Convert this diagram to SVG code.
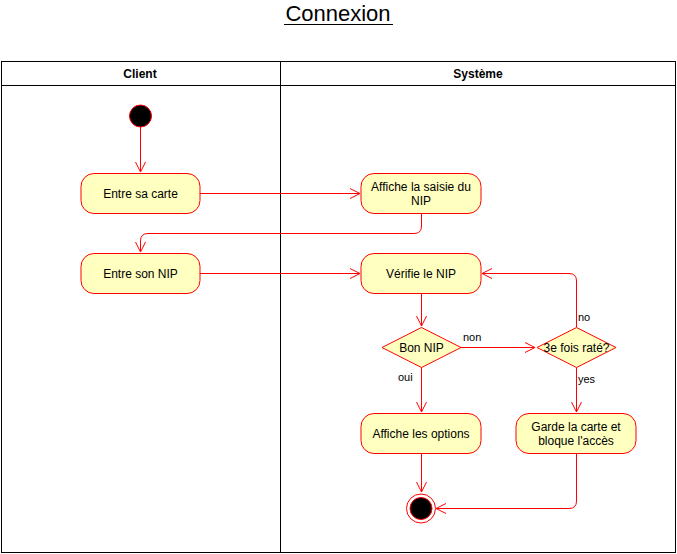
<svg xmlns="http://www.w3.org/2000/svg" width="677" height="554" viewBox="0 0 677 554">
<defs>
<style>
text{font-family:"Liberation Sans",Arial,sans-serif;font-size:12px;fill:#000;text-anchor:middle}
.act{fill:#FFFFC0;stroke:#FF0000;stroke-width:1}
.edge{fill:none;stroke:#FF0000;stroke-width:1}
.lane{fill:none;stroke:#000;stroke-width:1}
.hdr{font-weight:bold}
.lbl{font-size:11px;text-anchor:start}
</style>
<marker id="arr" viewBox="0 0 12 12" refX="11" refY="6" markerWidth="12" markerHeight="12" markerUnits="userSpaceOnUse" orient="auto">
<path d="M1,1 L11,6 L1,11" fill="none" stroke="#FF0000" stroke-width="1"/>
</marker>
</defs>
<rect width="677" height="554" fill="#fff"/>
<g id="title">
<text x="338" y="21" style="font-size:22px">Connexion</text>
<line x1="284" y1="24.5" x2="393" y2="24.5" stroke="#000" stroke-width="1.2"/>
</g>
<g id="pool">
<rect class="lane" x="1.5" y="61.5" width="674" height="491"/>
<line class="lane" x1="1.5" y1="85.5" x2="675.5" y2="85.5"/>
<line class="lane" x1="280.5" y1="61.5" x2="280.5" y2="552.5"/>
<text class="hdr" x="140" y="78">Client</text>
<text class="hdr" x="478" y="78">Système</text>
</g>
<g id="connectors">
<path class="edge" d="M140.5,127 V172" marker-end="url(#arr)"/>
<path class="edge" d="M200,193.5 H360" marker-end="url(#arr)"/>
<path class="edge" d="M421.5,213 V226 Q421.5,233.5 414,233.5 H148 Q140.5,233.5 140.5,241 V252" marker-end="url(#arr)"/>
<path class="edge" d="M200,273.5 H360" marker-end="url(#arr)"/>
<path class="edge" d="M421.5,293 V326" marker-end="url(#arr)"/>
<path class="edge" d="M461,347.5 H535" marker-end="url(#arr)"/>
<path class="edge" d="M576.5,327 V281 Q576.5,273.5 569,273.5 H482" marker-end="url(#arr)"/>
<path class="edge" d="M576.5,367 V412" marker-end="url(#arr)"/>
<path class="edge" d="M421.5,367 V412" marker-end="url(#arr)"/>
<path class="edge" d="M421.5,453 V492" marker-end="url(#arr)"/>
<path class="edge" d="M576.5,453 V501 Q576.5,508.5 569,508.5 H436" marker-end="url(#arr)"/>
<text class="lbl" x="463" y="341">non</text>
<text class="lbl" x="578" y="321">no</text>
<text class="lbl" x="578" y="383">yes</text>
<text class="lbl" x="398" y="381">oui</text>
</g>
<g id="start">
<circle cx="140.5" cy="116" r="11" fill="#000" stroke="#FF0000" stroke-width="1"/>
</g>
<g id="entre-carte">
<rect class="act" x="81" y="173.5" width="119" height="40" rx="13"/>
<text x="140.5" y="197.5">Entre sa carte</text>
</g>
<g id="affiche-saisie">
<rect class="act" x="361" y="173.5" width="120" height="40" rx="13"/>
<text x="421" y="191">Affiche la saisie du</text>
<text x="421" y="205">NIP</text>
</g>
<g id="entre-nip">
<rect class="act" x="81" y="253.5" width="119" height="40" rx="13"/>
<text x="140.5" y="277.5">Entre son NIP</text>
</g>
<g id="verifie-nip">
<rect class="act" x="361" y="253.5" width="120" height="40" rx="13"/>
<text x="421" y="277.5">Vérifie le NIP</text>
</g>
<g id="bon-nip">
<polygon class="act" points="421.5,327.5 461,347.5 421.5,367.5 382,347.5"/>
<text x="421.5" y="351.5">Bon NIP</text>
</g>
<g id="fois-rate">
<polygon class="act" points="576.5,327.5 616,347.5 576.5,367.5 537,347.5"/>
<text x="576.5" y="351.5">3e fois raté?</text>
</g>
<g id="affiche-options">
<rect class="act" x="361" y="413.5" width="120" height="40" rx="13"/>
<text x="421" y="437.5">Affiche les options</text>
</g>
<g id="garde-carte">
<rect class="act" x="516" y="413.5" width="120" height="40" rx="13"/>
<text x="576" y="430.5">Garde la carte et</text>
<text x="576" y="444.5">bloque l'accès</text>
</g>
<g id="end">
<circle cx="421" cy="508.5" r="14.5" fill="#fff" stroke="#FF0000" stroke-width="1"/>
<circle cx="421" cy="508.5" r="11" fill="#000" stroke="#FF0000" stroke-width="1"/>
</g>
</svg>
